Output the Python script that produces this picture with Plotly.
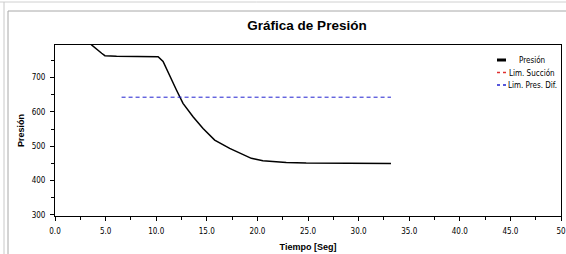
import plotly.graph_objects as go

tiempo = [3.2, 3.62, 4.61, 4.93, 6.08, 10.19, 10.68, 11.34, 12.0, 12.65, 13.64, 14.63, 15.78, 17.26, 19.4, 20.54, 22.85, 24.82, 33.2]
presion = [810, 795, 771, 764, 762, 761, 747, 703, 664, 625, 586, 552, 518, 494, 465, 458, 453, 451, 450]

lim_pres_dif_t = [6.58, 33.2]
lim_pres_dif_v = [643, 643]

lim_succion_t = [None]
lim_succion_v = [None]

legend_names = ["Presión", "Lim. Succión", "Lim. Pres. Dif."]
legend_colors = ["black", "#e03030", "#2020d0"]

x_ticks = [0, 5, 10, 15, 20, 25, 30, 35, 40, 45, 50]
x_labels = ["0.0", "5.0", "10.0", "15.0", "20.0", "25.0", "30.0", "35.0", "40.0", "45.0", "50"]
y_ticks = [300, 400, 500, 600, 700]

font = "Liberation Sans, Arial, sans-serif"
narrow = "Liberation Sans Narrow, Arial Narrow, DejaVu Sans Condensed, sans-serif"

# plot area in pixels (for placing frame / legend in paper coords)
L, R, T, B = 55, 561, 45, 216
def px(x):
    return (x - L) / (R - L)
def py(y):
    return (B - y) / (B - T)

fig = go.Figure()
fig.add_trace(go.Scatter(x=tiempo, y=presion, mode="lines", name=legend_names[0],
                         line=dict(color=legend_colors[0], width=1.5)))
fig.add_trace(go.Scatter(x=lim_succion_t, y=lim_succion_v, mode="lines", name=legend_names[1],
                         line=dict(color=legend_colors[1], width=1, dash="dot")))
fig.add_trace(go.Scatter(x=lim_pres_dif_t, y=lim_pres_dif_v, mode="lines", name=legend_names[2],
                         line=dict(color=legend_colors[2], width=1, dash="4px,3px")))

fig.update_layout(
    width=566, height=254,
    margin=dict(l=L, r=566 - R, t=T, b=254 - B),
    paper_bgcolor="white", plot_bgcolor="white",
    font=dict(family=font, size=8, color="black"),
    title=dict(text="<b>Gráfica de Presión</b>", x=px(307), xref="paper", xanchor="center",
               y=1 - 25 / 254, yref="container", yanchor="middle",
               font=dict(size=13.5, family=font, color="black")),
    showlegend=False,
    xaxis=dict(range=[0, 50], tickvals=x_ticks, ticktext=x_labels, ticks="outside", ticklen=4,
               tickcolor="black", showgrid=False, zeroline=False, showline=True, linecolor="black",
               linewidth=1, mirror=True, automargin=False, ticklabelstandoff=3,
               ticklabeloverflow="allow",
               minor=dict(dtick=2.5, ticks="outside", ticklen=3, tickcolor="black"),
               title=dict(text="<b>Tiempo [Seg]</b>", font=dict(size=9, family=font), standoff=9),
               tickfont=dict(size=8, family=narrow)),
    yaxis=dict(range=[297, 795], tickvals=y_ticks, ticks="outside", ticklen=4, tickcolor="black",
               showgrid=False, zeroline=False, showline=True, linecolor="black", linewidth=1, mirror=True,
               automargin=False, ticklabelstandoff=3,
               minor=dict(dtick=50, ticks="outside", ticklen=3, tickcolor="black"),
               title=dict(text="<b>Presión</b>", font=dict(size=9, family=font), standoff=5),
               tickfont=dict(size=8, family=narrow)),
)

# manual compact legend
leg_y = [60, 72.5, 85]
leg_dash = ["solid", "dot", "dot"]
leg_w = [3, 1.5, 1.5]
for name, color, yy, dsh, w in zip(legend_names, legend_colors, leg_y, leg_dash, leg_w):
    fig.add_shape(type="line", xref="paper", yref="paper", x0=px(497), x1=px(506), y0=py(yy), y1=py(yy),
                  line=dict(color=color, width=w, dash=dsh))
    fig.add_annotation(text=name, xref="paper", yref="paper", x=px(532), y=py(yy), xanchor="center",
                       yanchor="middle", showarrow=False, font=dict(size=8, family=narrow, color="black"))

# window frame
fig.add_shape(type="line", xref="paper", yref="paper", x0=px(8), x1=px(566), y0=py(11), y1=py(11),
              line=dict(color="#a8a8a8", width=1))
fig.add_shape(type="line", xref="paper", yref="paper", x0=px(0), x1=px(566), y0=py(2), y1=py(2),
              line=dict(color="#d0d0d0", width=1))
fig.add_shape(type="line", xref="paper", yref="paper", x0=px(8), x1=px(8), y0=py(11), y1=py(254),
              line=dict(color="#a8a8a8", width=1))
fig.add_shape(type="line", xref="paper", yref="paper", x0=px(4), x1=px(4), y0=py(2), y1=py(254),
              line=dict(color="#c8c8c8", width=1))

fig.write_html("out.html", config={"displayModeBar": False},
               post_script="document.body.style.margin='0';document.body.style.overflow='hidden';")
